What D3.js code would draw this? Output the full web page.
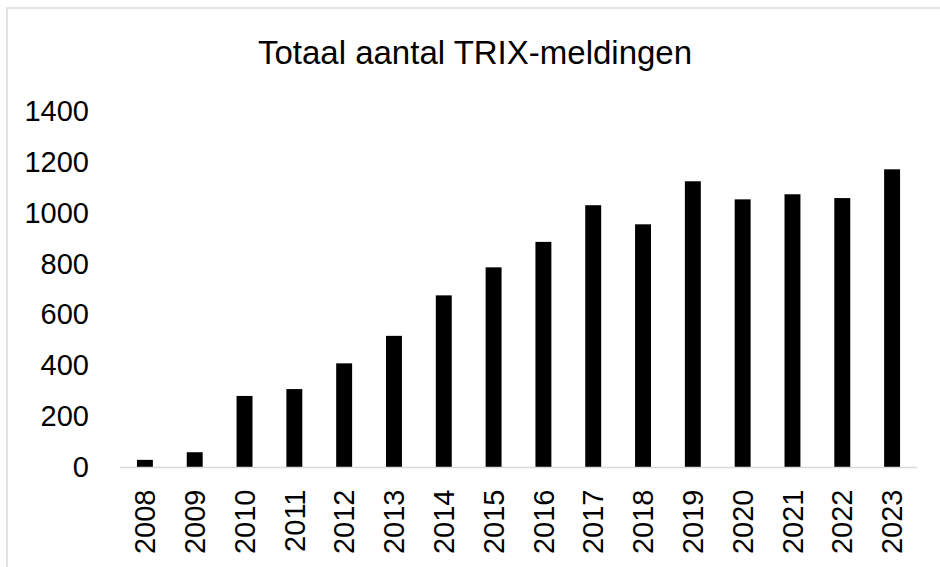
<!DOCTYPE html>
<html>
<head>
<meta charset="utf-8">
<script src="https://cdn.jsdelivr.net/npm/d3@7"></script>
<style>
  html, body { margin: 0; padding: 0; background: #fff; }
  svg { display: block; }
  text { font-family: "Liberation Sans", Arial, sans-serif; fill: #000; }
</style>
</head>
<body>
<div id="chart"></div>
<script>
const years = ["2008", "2009", "2010", "2011", "2012", "2013", "2014", "2015",
               "2016", "2017", "2018", "2019", "2020", "2021", "2022", "2023"];
const meldingen = [30, 60, 281, 308, 409, 517, 676, 786,
                   886, 1030, 955, 1124, 1053, 1073, 1058, 1171];
const yTicks = [0, 200, 400, 600, 800, 1000, 1200, 1400];
const chartTitle = "Totaal aantal TRIX-meldingen";

const width = 940, height = 567;
const margin = { top: 111, right: 23, bottom: 99.5, left: 120 };
const innerW = width - margin.left - margin.right;
const innerH = height - margin.top - margin.bottom;

const svg = d3.select("#chart").append("svg")
  .attr("width", width)
  .attr("height", height);

// chart area border (runs off the right and bottom edge like the source)
svg.append("rect")
  .attr("x", 7).attr("y", 8)
  .attr("width", 1000).attr("height", 700)
  .attr("fill", "#fff")
  .attr("stroke", "#d9d9d9")
  .attr("stroke-width", 1.5);

svg.append("text")
  .attr("x", 475)
  .attr("y", 64)
  .attr("text-anchor", "middle")
  .style("font-size", "33px")
  .text(chartTitle);

const g = svg.append("g")
  .attr("transform", `translate(${margin.left},${margin.top})`);

const x = d3.scaleBand()
  .domain(years)
  .range([0, innerW])
  .paddingInner(0.68)
  .paddingOuter(0.34);

const y = d3.scaleLinear()
  .domain([0, 1400])
  .range([innerH, 0]);

// y axis labels only
const yAxis = g.append("g")
  .call(d3.axisLeft(y).tickValues(yTicks).tickSize(0).tickPadding(31).tickFormat(d3.format("d")));
yAxis.select(".domain").remove();
yAxis.selectAll("text")
  .style("font-size", "29px")
  .style("font-family", "'Liberation Sans', Arial, sans-serif")
  .attr("fill", "#000");

// bars
g.selectAll("rect.bar")
  .data(years.map((yr, i) => ({ yr, v: meldingen[i] })))
  .join("rect")
  .attr("class", "bar")
  .attr("x", d => x(d.yr))
  .attr("y", d => y(d.v))
  .attr("width", x.bandwidth())
  .attr("height", d => innerH - y(d.v))
  .attr("fill", "#000");

// x axis line
g.append("line")
  .attr("x1", 0).attr("x2", innerW)
  .attr("y1", innerH).attr("y2", innerH)
  .attr("stroke", "#d9d9d9")
  .attr("stroke-width", 1.5);

// rotated year labels
g.selectAll("text.year")
  .data(years)
  .join("text")
  .attr("class", "year")
  .attr("transform", d => `translate(${x(d) + x.bandwidth() / 2},${innerH + 22}) rotate(-90)`)
  .attr("text-anchor", "end")
  .attr("dy", "0.35em")
  .style("font-size", "29px")
  .text(d => d);
</script>
</body>
</html>
